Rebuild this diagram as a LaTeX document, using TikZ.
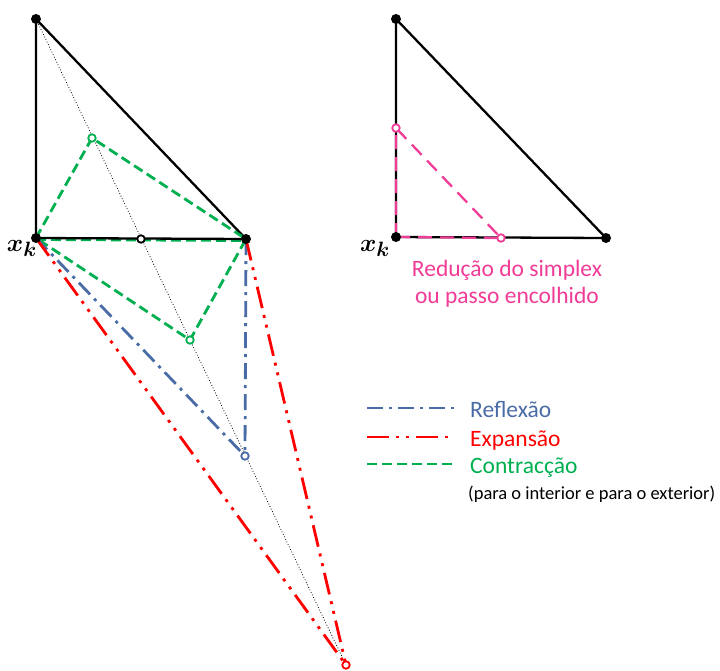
\documentclass[tikz,border=0pt]{standalone}
\usepackage{fontspec}
\setmainfont{Carlito}
\usepackage{amsmath}
\usetikzlibrary{positioning, calc}
\definecolor{reflblue}{RGB}{74,108,166}
\definecolor{expred}{RGB}{255,0,0}
\definecolor{contgreen}{RGB}{0,176,80}
\definecolor{shrinkpink}{RGB}{240,60,150}
\tikzset{
  edge/.style={black, line width=2.3pt},
  axisline/.style={black, line width=0.8pt, dotted},
  vertex/.style={circle, fill=black, inner sep=0pt, minimum size=10pt},
  trial/.style={circle, draw=#1, fill=white, line width=1.8pt, inner sep=0pt, minimum size=7.5pt},
  reflline/.style={reflblue, line width=2.8pt, dash pattern=on 16pt off 6pt on 3pt off 6pt},
  expline/.style={expred, line width=2.8pt, dash pattern=on 22pt off 7pt on 3pt off 7pt on 3pt off 7pt},
  contline/.style={contgreen, line width=2.8pt, dash pattern=on 10pt off 5pt},
  shrinkline/.style={shrinkpink, line width=2.3pt, dash pattern=on 14pt off 8pt},
  legtext/.style={anchor=base west, inner sep=0pt, font=\fontsize{23.5}{28}\selectfont},
  xklabel/.style={inner sep=0pt, font=\fontsize{31}{36}\selectfont\boldmath}
}
\begin{document}
\begin{tikzpicture}[x=1pt, y=-1pt]
\useasboundingbox (0,0) rectangle (720,670);

% left simplex
\coordinate (A)  at (36,19);
\coordinate (B)  at (36,238);
\coordinate (C)  at (246,239);
\coordinate (M)  at (141,239);
\coordinate (R)  at (245,456);
\coordinate (E)  at (346,665);
\coordinate (Ci) at (92,138);
\coordinate (Co) at (190,340);

\draw [axisline] (A) -- (E);
\draw [contline] ($(B)+(0,1.5)$) -- ($(C)+(0,1.5)$);
\draw [edge] (B) -- (A) -- (C) -- cycle;
\draw [contline] (B) -- (Ci) -- (C) -- (Co) -- cycle;
\draw [reflline] (B) -- (R);
\draw [reflline] (C) -- (R);
\draw [expline]  (B) -- (E);
\draw [expline]  (C) -- (E);

\node [vertex] (vA) at (A) {};
\node [vertex] (vB) at (B) {};
\node [vertex] (vC) at (C) {};
\node [trial=black]      (tM)  at (M)  {};
\node [trial=contgreen]  (tCi) at (Ci) {};
\node [trial=contgreen]  (tCo) at (Co) {};
\node [trial=reflblue]   (tR)  at (R)  {};
\node [trial=expred]     (tE)  at (E)  {};
\node [xklabel, anchor=base east] (xk) at (37,251) {$x_{k}$};

% right simplex (shrink)
\coordinate (A2) at (396,19);
\coordinate (B2) at (396,237);
\coordinate (C2) at (606,238);
\coordinate (P1) at (396,128);
\coordinate (P2) at (501,238);

\draw [edge] (B2) -- (A2) -- (C2) -- cycle;
\draw [shrinkline] (B2) -- (P1) -- (P2) -- cycle;

\node [vertex] (vA2) at (A2) {};
\node [vertex] (vB2) at (B2) {};
\node [vertex] (vC2) at (C2) {};
\node [trial=shrinkpink] (tP1) at (P1) {};
\node [trial=shrinkpink] (tP2) at (P2) {};
\node [xklabel, anchor=base east] (xk2) at (390,251) {$x_{k}$};

\node [legtext, anchor=base, text=shrinkpink] (shr1) at (507,276) {Redução do simplex};
\node [legtext, anchor=base, text=shrinkpink] (shr2) at (507,303) {ou passo encolhido};

% legend
\coordinate (l1a) at (367,408); \coordinate (l1b) at (455,408);
\coordinate (l2a) at (367,437); \coordinate (l2b) at (455,437);
\coordinate (l3a) at (367,464); \coordinate (l3b) at (455,464);
\draw [reflline] (l1a) -- (l1b);
\draw [expline]  (l2a) -- (l2b);
\draw [contline] (l3a) -- (l3b);
\node [legtext, text=reflblue]  (lg1) at (470,417) {Reflexão};
\node [legtext, text=expred]    (lg2) at (470,446) {Expansão};
\node [legtext, text=contgreen] (lg3) at (470,473) {Contracção};
\node [legtext, font=\fontsize{18.5}{22}\selectfont] (lg4) at (468,499) {(para o interior e para o exterior)};
\end{tikzpicture}
\end{document}
